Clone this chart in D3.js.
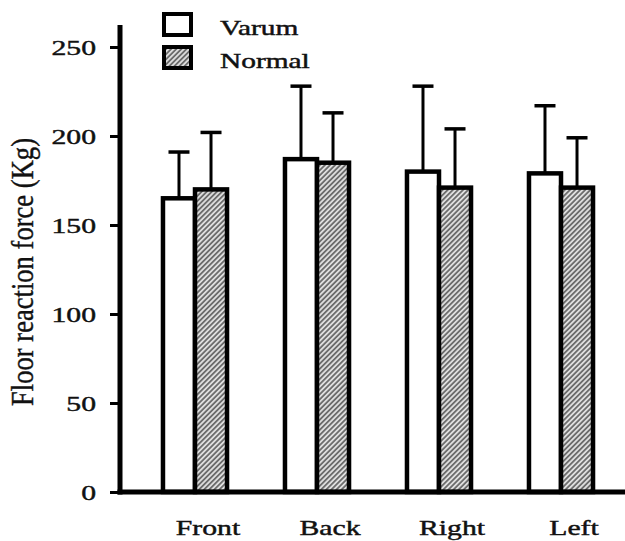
<!DOCTYPE html>
<html>
<head>
<meta charset="utf-8">
<script src="https://cdn.jsdelivr.net/npm/d3@7"></script>
<style>
  html, body { margin: 0; padding: 0; background: #fff; }
  svg { display: block; }
  text { font-family: 'Liberation Serif', 'Times New Roman', serif; fill: #111; stroke: #111; stroke-width: 0.45px; }
</style>
</head>
<body>
<svg id="chart" width="625" height="541"></svg>
<script>
// Data
const categories = ['Front', 'Back', 'Right', 'Left'];
const series = ['Varum', 'Normal'];
const varumMean = [165, 187, 180, 179];
const varumSD = [26, 41, 48, 38];
const normalMean = [170, 185, 171, 171];
const normalSD = [32, 28, 33, 28];
const yTicks = [0, 50, 100, 150, 200, 250];

const W = 625, H = 541;
const axisX = 120, axisY = 492, axisTop = 25;
const stretch = 1.35; // glyphs in the source look horizontally stretched

const svg = d3.select('#chart');

// hatch for the Normal bars (/// lines)
const defs = svg.append('defs');
const hatch = defs.append('pattern')
  .attr('id', 'hatch')
  .attr('patternUnits', 'userSpaceOnUse')
  .attr('width', 3.6).attr('height', 3.6)
  .attr('patternTransform', 'rotate(45)');
hatch.append('rect').attr('width', 3.6).attr('height', 3.6).attr('fill', '#dedede');
hatch.append('line')
  .attr('x1', 0.9).attr('y1', 0).attr('x2', 0.9).attr('y2', 3.6)
  .attr('stroke', '#555').attr('stroke-width', 1.5);

const y = d3.scaleLinear().domain([0, 250]).range([axisY, 47]);

const x = d3.scaleBand()
  .domain(categories)
  .range([134, 622])
  .paddingInner(0.475)
  .paddingOuter(0.2375);

const xInner = d3.scaleBand()
  .domain(series)
  .range([0, x.bandwidth()]);

const rows = categories.map((c, i) => [
  { cat: c, s: 'Varum', mean: varumMean[i], sd: varumSD[i] },
  { cat: c, s: 'Normal', mean: normalMean[i], sd: normalSD[i] }
]).flat();

// error bars (drawn first, bars cover the lower part)
const err = svg.append('g').attr('stroke', '#000');
rows.forEach(d => {
  const cx = x(d.cat) + xInner(d.s) + xInner.bandwidth() / 2;
  err.append('line')
    .attr('x1', cx).attr('x2', cx)
    .attr('y1', y(d.mean)).attr('y2', y(d.mean + d.sd))
    .attr('stroke-width', 3);
  err.append('line')
    .attr('x1', cx - 10.5).attr('x2', cx + 10.5)
    .attr('y1', y(d.mean + d.sd)).attr('y2', y(d.mean + d.sd))
    .attr('stroke-width', 3.5);
});

// bars
svg.append('g')
  .selectAll('rect')
  .data(rows)
  .join('rect')
  .attr('x', d => x(d.cat) + xInner(d.s))
  .attr('y', d => y(d.mean))
  .attr('width', xInner.bandwidth())
  .attr('height', d => y(0) - y(d.mean))
  .attr('fill', d => d.s === 'Varum' ? '#fff' : 'url(#hatch)')
  .attr('stroke', '#000')
  .attr('stroke-width', 4.5);

// y axis
const yAxis = svg.append('g')
  .attr('transform', `translate(${axisX},0)`)
  .call(d3.axisLeft(y).tickValues(yTicks).tickSize(10).tickSizeOuter(0));
yAxis.select('.domain').remove();
yAxis.selectAll('.tick line').attr('stroke', '#000').attr('stroke-width', 3);
yAxis.selectAll('.tick text')
  .attr('x', -24 / stretch)
  .attr('transform', `scale(${stretch},1)`)
  .style('font-size', '22px')
  .style('font-family', "'Liberation Serif', 'Times New Roman', serif")
  .attr('fill', '#111');

svg.append('line')
  .attr('x1', axisX).attr('x2', axisX)
  .attr('y1', axisTop).attr('y2', axisY + 2.5)
  .attr('stroke', '#000').attr('stroke-width', 5);

// x axis
svg.append('line')
  .attr('x1', axisX - 2.5).attr('x2', W)
  .attr('y1', axisY).attr('y2', axisY)
  .attr('stroke', '#000').attr('stroke-width', 5);

svg.append('g')
  .selectAll('text')
  .data(categories)
  .join('text')
  .attr('transform', d => `translate(${x(d) + x.bandwidth() / 2 + 13},535) scale(${stretch},1)`)
  .attr('text-anchor', 'middle')
  .style('font-size', '22px')
  .text(d => d);

// y label
svg.append('text')
  .attr('transform', `translate(33,272) scale(1.3,1) rotate(-90)`)
  .attr('text-anchor', 'middle')
  .attr('textLength', 268)
  .attr('lengthAdjust', 'spacingAndGlyphs')
  .style('font-size', '24px')
  .style('stroke-width', '0.3px')
  .text('Floor reaction force (Kg)');

// legend
const legend = svg.append('g');
series.forEach((s, i) => {
  const ly = 14 + i * 33;
  legend.append('rect')
    .attr('x', 164).attr('y', ly)
    .attr('width', 27).attr('height', 21)
    .attr('fill', s === 'Varum' ? '#fff' : 'url(#hatch)')
    .attr('stroke', '#000').attr('stroke-width', 4);
  legend.append('text')
    .attr('transform', `translate(220,${ly + 21}) scale(1.4,1)`)
    .style('font-size', '21px')
    .text(s);
});
</script>
</body>
</html>
